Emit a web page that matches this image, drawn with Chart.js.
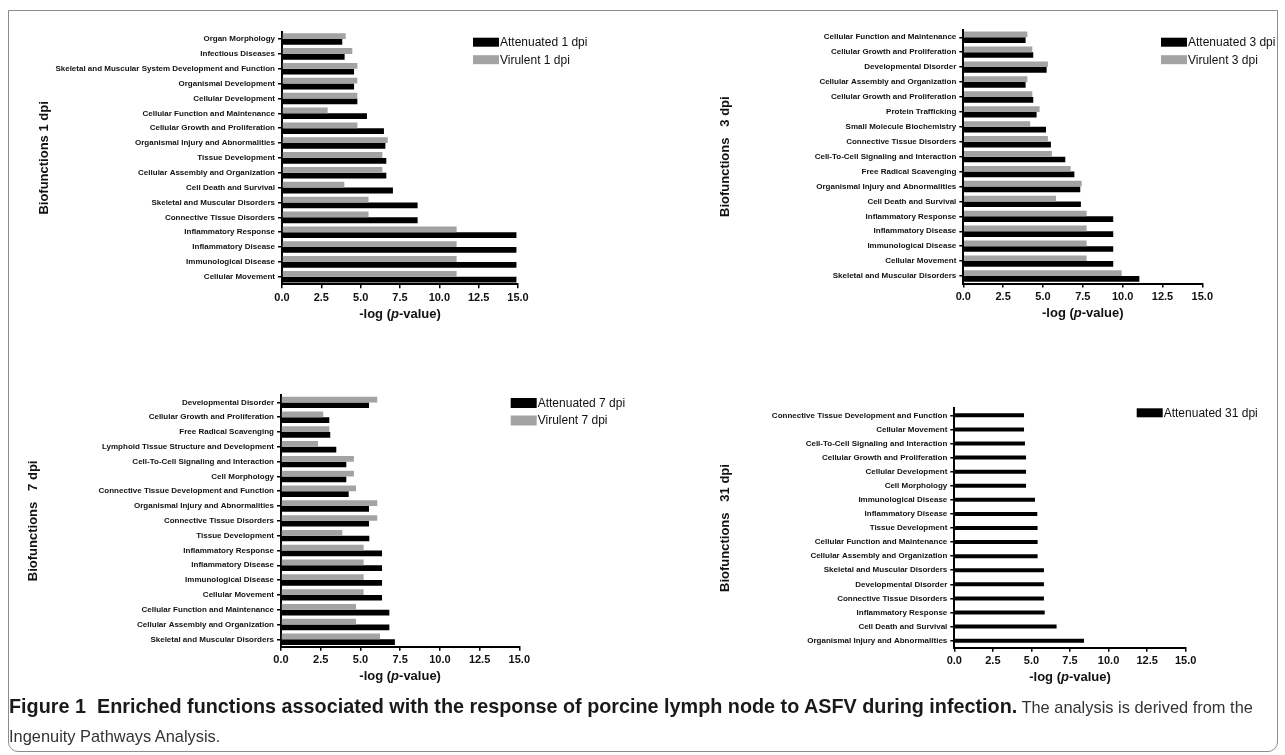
<!DOCTYPE html>
<html>
<head>
<meta charset="utf-8">
<script src="https://cdn.jsdelivr.net/npm/chart.js@4.4.1/dist/chart.umd.min.js"></script>
<style>
    body { margin: 0; width: 1285px; height: 755px; overflow: hidden; position: relative; background: #fff; font-family: "Liberation Sans", Arial, sans-serif; }
    #frame { position: absolute; left: 8px; top: 10px; width: 1270px; height: 742px; box-sizing: border-box; border: 1.5px solid #8c8c8c; border-radius: 0 0 10px 10px; }
    canvas { position: absolute; }
    #caption { position: absolute; left: 9px; top: 692px; line-height: 29px; white-space: nowrap; font-size: 16.4px; color: #333; }
    #caption b { color: #1a1a1a; font-size: 19.8px; }
</style>
</head>
<body>
<div id="frame"></div>
<canvas id="c1" width="603" height="310" style="left:37px;top:20px"></canvas>
<canvas id="c3" width="567" height="310" style="left:718px;top:20px"></canvas>
<canvas id="c7" width="614" height="310" style="left:26px;top:385px"></canvas>
<canvas id="c31" width="567" height="310" style="left:718px;top:385px"></canvas>
<div id="caption"><b>Figure 1&nbsp; Enriched functions associated with the response of porcine lymph node to ASFV during infection.</b> The analysis is derived from the<br>Ingenuity Pathways Analysis.</div>
<script>
var colors = {
    black: '#000000',
    grey: '#a3a3a3'
};

// 1 dpi
var labels1 = ['Organ Morphology', 'Infectious Diseases', 'Skeletal and Muscular System Development and Function', 'Organismal Development', 'Cellular Development', 'Cellular Function and Maintenance', 'Cellular Growth and Proliferation', 'Organismal Injury and Abnormalities', 'Tissue Development', 'Cellular Assembly and Organization', 'Cell Death and Survival', 'Skeletal and Muscular Disorders', 'Connective Tissue Disorders', 'Inflammatory Response', 'Inflammatory Disease', 'Immunological Disease', 'Cellular Movement'];
var att1 = [3.83, 3.98, 4.58, 4.58, 4.79, 5.4, 6.48, 6.57, 6.63, 6.63, 7.05, 8.62, 8.62, 14.9, 14.9, 14.9, 14.9];
var vir1 = [4.05, 4.47, 4.79, 4.79, 4.79, 2.9, 4.79, 6.72, 6.38, 6.38, 3.96, 5.5, 5.5, 11.1, 11.1, 11.1, 11.1];

// 3 dpi
var labels3 = ['Cellular Function and Maintenance', 'Cellular Growth and Proliferation', 'Developmental Disorder', 'Cellular Assembly and Organization', 'Cellular Growth and Proliferation', 'Protein Trafficking', 'Small Molecule Biochemistry', 'Connective Tissue Disorders', 'Cell-To-Cell Signaling and Interaction', 'Free Radical Scavenging', 'Organismal Injury and Abnormalities', 'Cell Death and Survival', 'Inflammatory Response', 'Inflammatory Disease', 'Immunological Disease', 'Cellular Movement', 'Skeletal and Muscular Disorders'];
var att3 = [3.91, 4.39, 5.23, 3.91, 4.39, 4.6, 5.19, 5.5, 6.4, 6.97, 7.34, 7.38, 9.41, 9.41, 9.41, 9.41, 11.05];
var vir3 = [4.02, 4.33, 5.31, 4.02, 4.33, 4.79, 4.2, 5.31, 5.56, 6.74, 7.43, 5.82, 7.74, 7.74, 7.74, 7.74, 9.94];

// 7 dpi
var labels7 = ['Developmental Disorder', 'Cellular Growth and Proliferation', 'Free Radical Scavenging', 'Lymphoid Tissue Structure and Development', 'Cell-To-Cell Signaling and Interaction', 'Cell Morphology', 'Connective Tissue Development and Function', 'Organismal Injury and Abnormalities', 'Connective Tissue Disorders', 'Tissue Development', 'Inflammatory Response', 'Inflammatory Disease', 'Immunological Disease', 'Cellular Movement', 'Cellular Function and Maintenance', 'Cellular Assembly and Organization', 'Skeletal and Muscular Disorders'];
var att7 = [5.54, 3.04, 3.1, 3.48, 4.11, 4.11, 4.26, 5.54, 5.54, 5.56, 6.36, 6.36, 6.36, 6.36, 6.82, 6.82, 7.17];
var vir7 = [6.06, 2.66, 3.04, 2.33, 4.59, 4.59, 4.72, 6.06, 6.06, 3.86, 5.2, 5.2, 5.2, 5.2, 4.72, 4.72, 6.23];

// 31 dpi
var labels31 = ['Connective Tissue Development and Function', 'Cellular Movement', 'Cell-To-Cell Signaling and Interaction', 'Cellular Growth and Proliferation', 'Cellular Development', 'Cell Morphology', 'Immunological Disease', 'Inflammatory Disease', 'Tissue Development', 'Cellular Function and Maintenance', 'Cellular Assembly and Organization', 'Skeletal and Muscular Disorders', 'Developmental Disorder', 'Connective Tissue Disorders', 'Inflammatory Response', 'Cell Death and Survival', 'Organismal Injury and Abnormalities'];
var att31 = [4.52, 4.52, 4.58, 4.65, 4.65, 4.65, 5.23, 5.38, 5.4, 5.4, 5.4, 5.81, 5.81, 5.81, 5.86, 6.63, 8.41];

var fontName = '"Liberation Sans", Arial, sans-serif';

// legend drawn at a fixed spot, attenuated first
var cornerLegend = {
    id: 'cornerLegend',
    afterDraw: function (chart, args, opts) {
        var ctx = chart.ctx;
        var sets = chart.data.datasets.slice().reverse();
        ctx.save();
        ctx.font = '12px ' + fontName;
        ctx.textBaseline = 'middle';
        for (var i = 0; i < sets.length; i++) {
            var y = opts.y + i * 17.5;
            ctx.fillStyle = sets[i].backgroundColor;
            ctx.fillRect(opts.x, y, 26, opts.boxH);
            ctx.fillStyle = '#111';
            ctx.fillText(sets[i].label, opts.x + 27, y + opts.boxH / 2 + 0.5);
        }
        ctx.restore();
    }
};

// "-log (p-value)" with italic p
var logTitle = {
    id: 'logTitle',
    afterDraw: function (chart, args, opts) {
        var ctx = chart.ctx, a = chart.chartArea;
        var parts = [['-log (', 'bold 13px ' + fontName], ['p', 'italic bold 13px ' + fontName], ['-value)', 'bold 13px ' + fontName]];
        ctx.save();
        var total = 0;
        for (var i = 0; i < parts.length; i++) {
            ctx.font = parts[i][1];
            total += ctx.measureText(parts[i][0]).width;
        }
        var x = (a.left + a.right) / 2 - total / 2;
        ctx.fillStyle = '#111';
        ctx.textBaseline = 'middle';
        for (var i = 0; i < parts.length; i++) {
            ctx.font = parts[i][1];
            ctx.fillText(parts[i][0], x, a.bottom + opts.dy);
            x += ctx.measureText(parts[i][0]).width;
        }
        ctx.restore();
    }
};

function makePanel(id, labels, datasets, p) {
    var ctx = document.getElementById(id).getContext('2d');
    return new Chart(ctx, {
        type: 'bar',
        data: { labels: labels, datasets: datasets },
        plugins: [cornerLegend, logTitle],
        options: {
            indexAxis: 'y',
            responsive: false,
            animation: false,
            datasets: { bar: { categoryPercentage: p.cat, barPercentage: p.bar } },
            layout: { padding: { left: 0, top: p.padTop, right: p.padRight, bottom: 0 } },
            plugins: {
                legend: { display: false },
                tooltip: { enabled: false },
                cornerLegend: { x: p.legX, y: p.legY, boxH: p.boxH },
                logTitle: { dy: p.titleDy }
            },
            scales: {
                x: {
                    min: 0,
                    max: 15,
                    ticks: {
                        stepSize: 2.5,
                        maxRotation: 0,
                        autoSkip: false,
                        padding: 3,
                        color: '#111',
                        font: { family: fontName, size: 11, weight: 'bold' },
                        callback: function (v) { return v.toFixed(1); }
                    },
                    grid: { drawOnChartArea: false, tickLength: 4, color: '#000', lineWidth: 1.5 },
                    border: { color: '#000', width: 2 },
                    afterFit: function (s) { s.height = p.xH; }
                },
                y: {
                    ticks: {
                        autoSkip: false,
                        padding: 3,
                        color: '#111',
                        font: { family: fontName, size: 8, weight: 'bold' }
                    },
                    grid: { drawOnChartArea: false, offset: false, tickLength: 4, color: '#000', lineWidth: 1.5 },
                    border: { color: '#000', width: 2 },
                    title: {
                        display: true,
                        text: p.title,
                        padding: 0,
                        color: '#111',
                        font: { family: fontName, size: 13, weight: 'bold' }
                    },
                    afterFit: function (s) { s.width = p.yW; }
                }
            }
        }
    });
}

makePanel('c1', labels1, [
    { label: 'Virulent 1 dpi', data: vir1, backgroundColor: colors.grey },
    { label: 'Attenuated 1 dpi', data: att1, backgroundColor: colors.black }
], { title: 'Biofunctions 1 dpi', yW: 245, xH: 45.8, padTop: 11.6, padRight: 122, cat: 0.78, bar: 1, legX: 436, legY: 17.7, boxH: 9, titleDy: 30 });

makePanel('c3', labels3, [
    { label: 'Virulent 3 dpi', data: vir3, backgroundColor: colors.grey },
    { label: 'Attenuated 3 dpi', data: att3, backgroundColor: colors.black }
], { title: 'Biofunctions   3 dpi', yW: 245.3, xH: 46.5, padTop: 9.8, padRight: 82.7, cat: 0.76, bar: 1, legX: 443, legY: 17.7, boxH: 9, titleDy: 30 });

makePanel('c7', labels7, [
    { label: 'Virulent 7 dpi', data: vir7, backgroundColor: colors.grey },
    { label: 'Attenuated 7 dpi', data: att7, backgroundColor: colors.black }
], { title: 'Biofunctions   7 dpi', yW: 255, xH: 48.3, padTop: 10, padRight: 120.7, cat: 0.77, bar: 1, legX: 484.7, legY: 13, boxH: 10, titleDy: 30 });

makePanel('c31', labels31, [
    { label: 'Attenuated 31 dpi', data: att31, backgroundColor: colors.black }
], { title: 'Biofunctions   31 dpi', yW: 236.3, xH: 47.3, padTop: 23.3, padRight: 99.3, cat: 0.57, bar: 0.5, legX: 418.7, legY: 23.3, boxH: 9, titleDy: 30 });
</script>
</body>
</html>
